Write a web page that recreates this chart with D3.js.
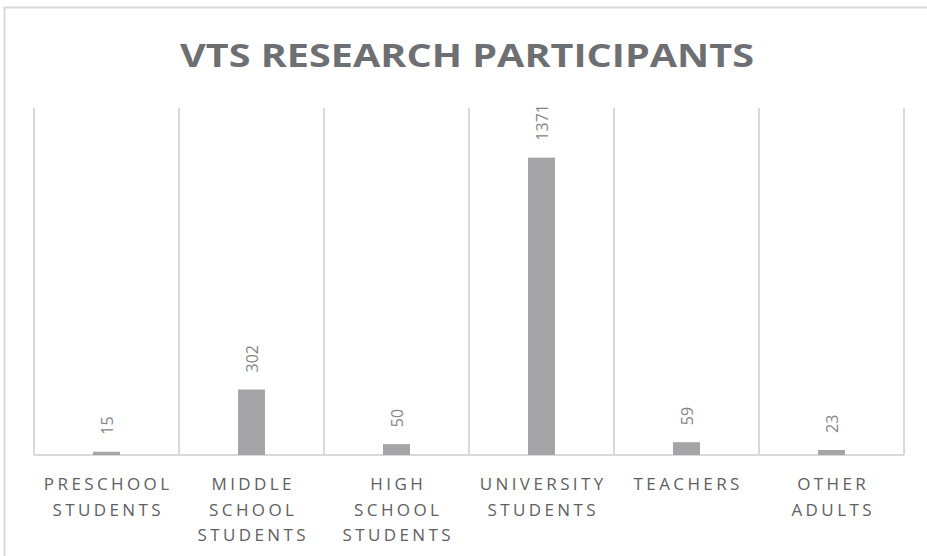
<!DOCTYPE html>
<html>
<head>
<meta charset="utf-8">
<script src="https://cdn.jsdelivr.net/npm/d3@7"></script>
<style>
  body { margin: 0; background: #fff; }
  svg { display: block; }
</style>
</head>
<body>
<div id="chart"></div>
<script>
// chart data
var categories = ["PRESCHOOL STUDENTS", "MIDDLE SCHOOL STUDENTS", "HIGH SCHOOL STUDENTS",
                  "UNIVERSITY STUDENTS", "TEACHERS", "OTHER ADULTS"];
var labelLines = [["PRESCHOOL", "STUDENTS"], ["MIDDLE", "SCHOOL", "STUDENTS"],
                  ["HIGH", "SCHOOL", "STUDENTS"], ["UNIVERSITY", "STUDENTS"],
                  ["TEACHERS"], ["OTHER", "ADULTS"]];
var participants = [15, 302, 50, 1371, 59, 23];

var width = 927, height = 556;

var svg = d3.select("#chart")
            .append("svg")
            .attr("width", width)
            .attr("height", height);

// outer frame (top and left edges only show)
svg.append("path")
   .attr("d", "M4.5," + height + " L4.5,7.5 L" + width + ",7.5")
   .attr("fill", "none")
   .attr("stroke", "#d9d9d9")
   .attr("stroke-width", 2);

// title
svg.append("text")
   .attr("x", 467)
   .attr("y", 67)
   .attr("text-anchor", "middle")
   .style("font-family", "'Open Sans', sans-serif")
   .style("font-weight", "bold")
   .style("font-size", "33px")
   .style("fill", "#6e6f72")
   .attr("textLength", 574)
   .attr("lengthAdjust", "spacingAndGlyphs")
   .text("VTS RESEARCH PARTICIPANTS");

// scales
var x = d3.scaleBand()
          .domain(categories)
          .range([34, 904])
          .paddingInner(0)
          .paddingOuter(0);

var y = d3.scaleLinear()
          .domain([0, 1600]) // axis limits
          .range([455, 108]);

// vertical gridlines between categories
var edges = categories.map(function(c) { return x(c); });
edges.push(x(categories[categories.length - 1]) + x.bandwidth());

svg.append("g")
   .selectAll("line")
   .data(edges)
   .enter()
   .append("line")
     .attr("x1", function(d) { return d; })
     .attr("x2", function(d) { return d; })
     .attr("y1", y.range()[1])
     .attr("y2", y(0))
     .attr("stroke", "#d9d9d9")
     .attr("stroke-width", 2);

// baseline
svg.append("line")
   .attr("x1", x.range()[0])
   .attr("x2", x.range()[1])
   .attr("y1", y(0))
   .attr("y2", y(0))
   .attr("stroke", "#d9d9d9")
   .attr("stroke-width", 2);

var barW = 27;

// bars
svg.append("g")
   .selectAll("rect")
   .data(participants)
   .enter()
   .append("rect")
     .attr("x", function(d, i) { return x(categories[i]) + x.bandwidth() / 2 - barW / 2; })
     .attr("y", function(d) { return y(d); })
     .attr("width", barW)
     .attr("height", function(d) { return y(0) - y(d); })
     .attr("fill", "#a5a5a7");

// value labels, rotated
svg.append("g")
   .selectAll("text")
   .data(participants)
   .enter()
   .append("text")
     .attr("transform", function(d, i) {
       var cx = x(categories[i]) + x.bandwidth() / 2 + 6;
       return "translate(" + cx + "," + (y(d) - 17) + ") rotate(-90)";
     })
     .attr("text-anchor", "start")
     .style("font-family", "'Open Sans', sans-serif")
     .style("font-size", "16px")
     .style("fill", "#858688")
     .text(function(d) { return d; });

// category labels
var cat = svg.append("g")
   .selectAll("text")
   .data(labelLines)
   .enter()
   .append("text")
     .attr("text-anchor", "middle")
     .style("font-family", "'Open Sans', sans-serif")
     .style("font-size", "17px")
     .style("letter-spacing", "3.4px")
     .style("fill", "#5f6062");

cat.selectAll("tspan")
   .data(function(d, i) { return d.map(function(t) { return {t: t, i: i}; }); })
   .enter()
   .append("tspan")
     .attr("x", function(d) { return x(categories[d.i]) + x.bandwidth() / 2 + 1.7; })
     .attr("y", function(d, j) { return 490 + j * 25.5; })
     .text(function(d) { return d.t; });
</script>
</body>
</html>
